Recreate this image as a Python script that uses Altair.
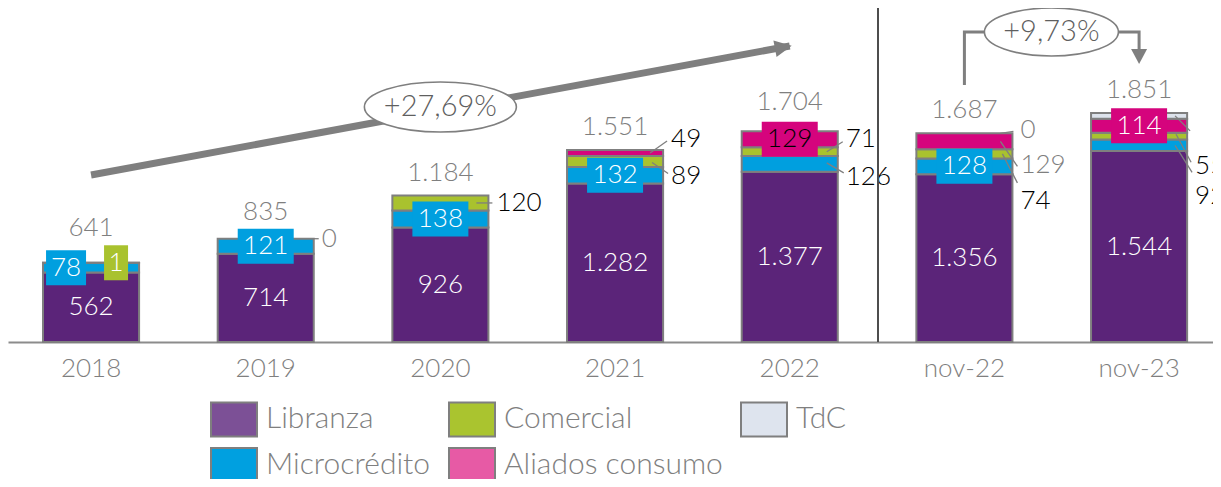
import altair as alt
import pandas as pd

# ---------------- data ----------------
categories = ["2018", "2019", "2020", "2021", "2022", "nov-22", "nov-23"]
series = ["Libranza", "Microcrédito", "Comercial", "Aliados consumo", "TdC"]
libranza = [562, 714, 926, 1282, 1377, 1356, 1544]
microcredito = [78, 121, 138, 132, 126, 128, 92]
comercial = [1, 0, 120, 89, 71, 74, 55]
aliados = [0, 0, 0, 49, 129, 129, 114]
tdc = [0, 0, 0, 0, 0, 0, 46]
total_labels = ["641", "835", "1.184", "1.551", "1.704", "1.687", "1.851"]
growth_labels = ["+27,69%", "+9,73%"]
legend_order = ["Libranza", "Microcrédito", "Comercial", "Aliados consumo", "TdC"]

# ---------------- style ----------------
FONT = "Lato"
W, H = 1205, 334
YMAX = 2700.0
PX = H / YMAX  # pixels per unit
GRAY = "#7f7f7f"
BLACK = "#000000"
bar_colors = {"Libranza": "#5b2479", "Microcrédito": "#009fdf", "Comercial": "#a9c22e",
              "Aliados consumo": "#d5047d", "TdC": "#dde3ec"}
legend_colors = {"Libranza": "#7c5096", "Microcrédito": "#00a0e0", "Comercial": "#aac42f",
                 "Aliados consumo": "#e75aa5", "TdC": "#dee4ee"}


def fmt(v):
    return f"{v:,}".replace(",", ".")


vals = {"Libranza": libranza, "Microcrédito": microcredito, "Comercial": comercial,
        "Aliados consumo": aliados, "TdC": tdc}
rows = []
for i, c in enumerate(categories):
    cum = 0
    for j, s in enumerate(series):
        v = vals[s][i]
        rows.append(dict(cat=c, series=s, value=v, ord=j, center=cum + v / 2, top=cum + v))
        cum += v
seg = pd.DataFrame(rows)
key = {(r.cat, r.series): r for r in seg.itertuples()}
stack_top = seg.groupby("cat")["top"].max().to_dict()

xscale = alt.Scale(domain=categories, paddingInner=0.45, paddingOuter=0.1743, align=0.575)
xaxis = alt.Axis(title=None, ticks=False, labelFont=FONT, labelFontSize=26, labelFontWeight=300,
                 labelColor=GRAY, labelPadding=13, domainColor="#8c8c8c", domainWidth=2,
                 labelAngle=0, grid=False)
yscale = alt.Scale(domain=[0, YMAX], nice=False, zero=True)


def X():
    return alt.X("cat:N", sort=categories, scale=xscale, axis=xaxis)


def Y(f="y"):
    return alt.Y(f"{f}:Q", scale=yscale, axis=None)


# ---------------- bars ----------------
bars_df = seg[seg.value > 0]
bars = alt.Chart(bars_df).mark_bar(stroke=GRAY, strokeWidth=2).encode(
    x=X(),
    y=alt.Y("value:Q", stack="zero", scale=yscale, axis=None),
    color=alt.Color("series:N", scale=alt.Scale(domain=series, range=[bar_colors[s] for s in series]),
                    legend=None),
    order=alt.Order("ord:Q", sort="ascending"),
)

# legend layer (invisible points, own colour scale)
leg_df = pd.DataFrame({"cat": categories[0], "y": 0, "series": legend_order})
rect_sym = "M-1,-0.74L1,-0.74L1,0.74L-1,0.74Z"
legend_layer = alt.Chart(leg_df).mark_point(filled=True, size=0, opacity=1).encode(
    x=X(), y=Y(),
    color=alt.Color("series:N",
                    scale=alt.Scale(domain=legend_order, range=[legend_colors[s] for s in legend_order]),
                    legend=alt.Legend(title=None, orient="none", legendX=202, legendY=387, columns=3,
                                      symbolType=rect_sym, symbolSize=2116, symbolStrokeColor=GRAY,
                                      symbolStrokeWidth=2, symbolOpacity=1, labelFont=FONT,
                                      labelFontSize=30, labelFontWeight=300, labelColor=GRAY,
                                      labelOffset=8, rowPadding=0, columnPadding=14, padding=0,
                                      labelLimit=400)),
)

# libranza labels inside
lib_df = seg[seg.series == "Libranza"].assign(y=lambda d: d.center, text=lambda d: d.value.map(fmt))
lib_text = alt.Chart(lib_df).mark_text(font=FONT, fontSize=26, fontWeight=300, color="white",
                                        baseline="middle").encode(x=X(), y=Y(), text="text:N")

# boxed labels: (cat, series, dx px, box colour, text colour)
box_spec = [
    ("2018", "Microcrédito", -25, "#009fdf", "white"),
    ("2018", "Comercial", 25, "#a9c22e", "white"),
    ("2019", "Microcrédito", 0, "#009fdf", "white"),
    ("2020", "Microcrédito", 0, "#009fdf", "white"),
    ("2021", "Microcrédito", 0, "#009fdf", "white"),
    ("2022", "Aliados consumo", 0, "#d5047d", BLACK),
    ("nov-22", "Microcrédito", 0, "#009fdf", "white"),
    ("nov-23", "Aliados consumo", 0, "#d5047d", "white"),
]
box_w = {1: 24, 2: 40, 3: 56}
brows = []
for c, s, dx, bc, tc in box_spec:
    r = key[(c, s)]
    t = fmt(r.value)
    w = box_w[len(t)]
    path = f"M{dx - w / 2},-17.5L{dx + w / 2},-17.5L{dx + w / 2},17.5L{dx - w / 2},17.5Z"
    brows.append(dict(cat=c, y=r.center, text=t, path=path, bc=bc, tc=tc, dx=dx))
box_df = pd.DataFrame(brows)
boxes = alt.Chart(box_df).mark_point(filled=True, size=4, opacity=1, strokeWidth=0).encode(
    x=X(), y=Y(), shape=alt.Shape("path:N", scale=None), color=alt.Color("bc:N", scale=None))
box_texts = [
    alt.Chart(box_df[box_df.dx == d]).mark_text(font=FONT, fontSize=26, fontWeight=300, dx=int(d),
                                                baseline="middle").encode(
        x=X(), y=Y(), text="text:N", color=alt.Color("tc:N", scale=None))
    for d in sorted(box_df.dx.unique())
]

# outside labels: (cat, series, dy px, colour, leader path relative to segment centre)
out_spec = [
    ("2019", "Comercial", 0, GRAY, "M47,0L53,0"),
    ("2020", "Comercial", 0, BLACK, "M36,0L52,0"),
    ("2021", "Aliados consumo", -14, BLACK, "M35,0L52,-12"),
    ("2021", "Comercial", 14, BLACK, "M37,1L53,12"),
    ("2022", "Comercial", -13, BLACK, "M37,0L53,-10"),
    ("2022", "Microcrédito", 13, BLACK, "M37,-1L54,9"),
    ("nov-22", "TdC", -3, GRAY, "M36,0L49,-2"),
    ("nov-22", "Aliados consumo", 24, GRAY, "M36,0L53,25"),
    ("nov-22", "Comercial", 47, BLACK, "M38,0L53,29"),
    ("nov-23", "Comercial", 30, BLACK, "M37,-2L52,26"),
    ("nov-23", "Microcrédito", 51, BLACK, "M36,0L53,27"),
    ("nov-23", "TdC", None, GRAY, "M36,0L51,15"),
]
orows, lrows = [], []
for c, s, dy, col, lp in out_spec:
    r = key[(c, s)]
    lrows.append(dict(cat=c, y=r.center, path=lp))
    if dy is not None:
        orows.append(dict(cat=c, y=r.center - dy / PX, text=fmt(r.value), col=col))
out_df = pd.DataFrame(orows)
lead_df = pd.DataFrame(lrows)
leaders = alt.Chart(lead_df).mark_point(filled=False, size=4, opacity=1, strokeWidth=1.3,
                                        color=GRAY).encode(
    x=X(), y=Y(), shape=alt.Shape("path:N", scale=None))
out_text = alt.Chart(out_df).mark_text(
    font=FONT, fontSize=26, fontWeight=300, dx=56, align="left", baseline="middle"
).encode(x=X(), y=Y(), text="text:N", color=alt.Color("col:N", scale=None))

# totals
tot_dy = [35, 27, 23, 23, 29, 23, 23]
tot_df = pd.DataFrame({"cat": categories, "text": total_labels,
                       "y": [stack_top[c] + d / PX for c, d in zip(categories, tot_dy)]})
tot_text = alt.Chart(tot_df).mark_text(font=FONT, fontSize=26, fontWeight=300, color=GRAY,
                                       baseline="middle").encode(x=X(), y=Y(), text="text:N")

# ---------------- growth annotations ----------------
def yd(ref_px):
    # reference pixel row -> data units (baseline at row 342)
    return (342 - ref_px) / PX


arrow_df = pd.DataFrame({"cat": ["2018", "2022"], "y": [yd(175), yd(46)], "o": [0, 1]})
arrow_line = alt.Chart(arrow_df).mark_line(color=GRAY, strokeWidth=7, strokeCap="butt").encode(
    x=X(), y=Y(), order="o:Q")
head_df = pd.DataFrame({"cat": ["2022"], "y": [yd(46)], "path": ["M2,0L-15,-8.5L-15,8.5Z"]})
arrow_head = alt.Chart(head_df).mark_point(filled=True, size=4, opacity=1, color=GRAY, strokeWidth=0,
                                           angle=349.4).encode(
    x=X(), y=Y(), shape=alt.Shape("path:N", scale=None))

oval_df = pd.DataFrame({
    "cat": ["2020", "nov-22"],
    "y": [yd(107), yd(32)],
    "path": ["M-76,0A76,25 0 1,1 76,0A76,25 0 1,1 -76,0Z",
             "M20,0A67,24 0 1,1 154,0A67,24 0 1,1 20,0Z"],
    "text": growth_labels,
})
ovals = alt.Chart(oval_df).mark_point(filled=False, size=4, opacity=1, stroke=GRAY, fill="white",
                                      fillOpacity=1, strokeWidth=1.6).encode(
    x=X(), y=Y(), shape=alt.Shape("path:N", scale=None))
oval_t1 = alt.Chart(oval_df.iloc[[0]]).mark_text(font=FONT, fontSize=29, fontWeight=300, color="#5f5f5f",
                                                 baseline="middle").encode(x=X(), y=Y(), text="text:N")
oval_t2 = alt.Chart(oval_df.iloc[[1]]).mark_text(font=FONT, fontSize=29, fontWeight=300, color="#5f5f5f",
                                                 baseline="middle", dx=87).encode(x=X(), y=Y(), text="text:N")

br_df = pd.DataFrame({"cat": ["nov-22", "nov-22", "nov-23", "nov-23"],
                      "y": [yd(85), yd(32), yd(32), yd(52)], "o": [0, 1, 2, 3]})
bracket = alt.Chart(br_df).mark_line(color=GRAY, strokeWidth=3, strokeCap="butt").encode(
    x=X(), y=Y(), order="o:Q")
bhead_df = pd.DataFrame({"cat": ["nov-23"], "y": [yd(64)], "path": ["M-8,-15L8,-15L0,0Z"]})
bracket_head = alt.Chart(bhead_df).mark_point(filled=True, size=4, opacity=1, color=GRAY,
                                              strokeWidth=0).encode(
    x=X(), y=Y(), shape=alt.Shape("path:N", scale=None))

sep = alt.Chart(pd.DataFrame({"a": [0]})).mark_rule(color="#4d4d4d", strokeWidth=2).encode(
    x=alt.value(870), y=alt.value(0), y2=alt.value(H))

chart = alt.layer(
    bars, legend_layer, lib_text, leaders, boxes, *box_texts, out_text, tot_text,
    arrow_line, arrow_head, bracket, bracket_head, ovals, oval_t1, oval_t2, sep,
).resolve_scale(color="independent").properties(
    width=W, height=H,
    autosize=alt.AutoSizeParams(type="none"),
    padding={"left": 0, "right": 0, "top": 0, "bottom": 137},
).configure_view(stroke=None)

chart.save("out.html", embed_options={"renderer": "svg", "actions": False})
